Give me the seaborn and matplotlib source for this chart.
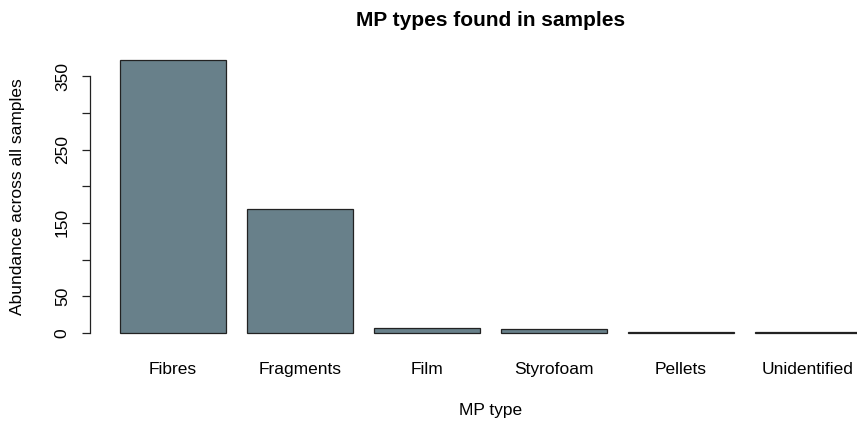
import matplotlib
matplotlib.use("Agg")
import matplotlib.pyplot as plt
import seaborn as sns
import pandas as pd

# Microplastic counts per type, summed across all samples
mp_types = ["Fibres", "Fragments", "Film", "Styrofoam", "Pellets", "Unidentified"]
abundance = [372, 169, 7, 5, 1, 1]
y_ticks = [0, 50, 100, 150, 200, 250, 300, 350]
y_tick_labels = ["0", "50", "", "150", "", "250", "", "350"]

df = pd.DataFrame({"type": mp_types, "abundance": abundance})

sns.set_style("white")
plt.rcParams["font.family"] = ["Liberation Sans", "DejaVu Sans"]
plt.rcParams["text.color"] = "black"
plt.rcParams["axes.labelcolor"] = "black"
plt.rcParams["xtick.color"] = "black"
plt.rcParams["ytick.color"] = "black"

fig = plt.figure(figsize=(8.57, 4.21), dpi=100)
W, H = 857, 421
# plot region runs a little past the right edge of the canvas
left_px, right_px, top_px, bottom_px = 90, 891, 49, 344
ax_h = bottom_px - top_px
ax_w = right_px - left_px
ax = fig.add_axes([left_px / W, 1 - bottom_px / H, ax_w / W, ax_h / H])

sns.barplot(data=df, x="type", y="abundance", ax=ax, color="#68808A",
            saturation=1, width=0.835, edgecolor="#222222", linewidth=0.9)

ymax = max(abundance)
ax.set_ylim(-0.04 * ymax, 1.04 * ymax)
ax.set_xlim(-0.654, 5.654)

for side in ["top", "right", "bottom"]:
    ax.spines[side].set_visible(False)
ax.spines["left"].set_bounds(0, 350)
ax.spines["left"].set_color("#222222")
ax.spines["left"].set_linewidth(0.9)

fs = 12.5
ax.set_yticks(y_ticks)
ax.set_yticklabels(y_tick_labels, rotation=90, va="center", fontsize=fs)
ax.tick_params(axis="y", length=6, width=0.9, color="#222222", pad=8.5, left=True)
ax.tick_params(axis="x", length=0, pad=13, labelsize=fs)

ax.set_xlabel("MP type", fontsize=fs)
ax.xaxis.set_label_coords(0.5, (bottom_px - 410) / ax_h)
ax.xaxis.label.set_va("center")
ax.set_ylabel("Abundance across all samples", fontsize=fs)
ax.yaxis.set_label_coords((18 - left_px) / ax_w, 0.5)
ax.yaxis.label.set_va("center")
ax.set_title("MP types found in samples", fontsize=15, fontweight="bold",
             y=(bottom_px - 20) / ax_h, va="center", pad=0)
ax.grid(False)

fig.savefig("out.png", dpi=100)
